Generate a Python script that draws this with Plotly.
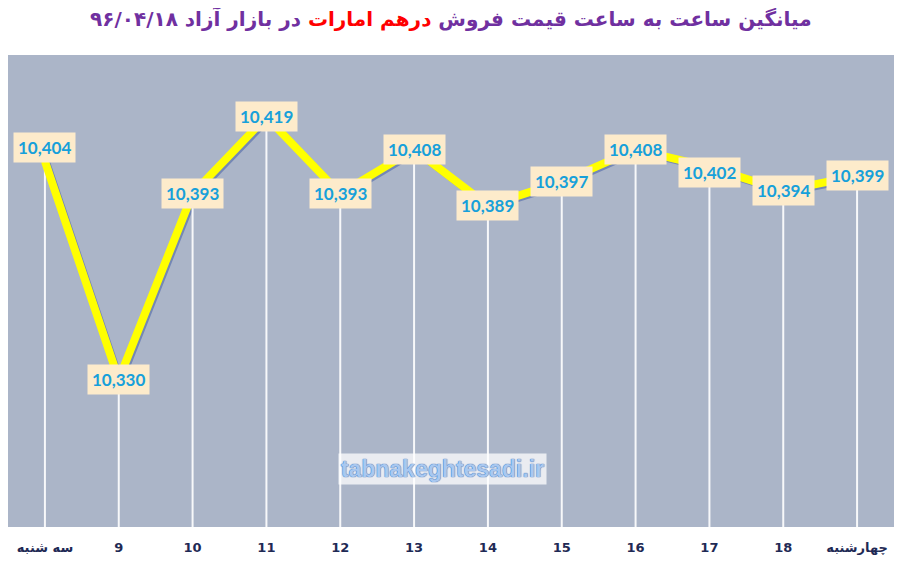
import plotly.graph_objects as go

# داده ها
days = ["سه شنبه", "9", "10", "11", "12", "13", "14", "15", "16", "17", "18", "چهارشنبه"]
prices = [10404, 10330, 10393, 10419, 10393, 10408, 10389, 10397, 10408, 10402, 10394, 10399]
label_shift = [14, 0, 0, 0, 0, 0, 0, 0, 0, -5, 0, 0]

y_min, y_max = 10280, 10440
idx = list(range(len(days)))

fig = go.Figure()

# سایه خط (روی محور جابجا شده)
fig.add_trace(go.Scatter(x=idx, y=prices, mode="lines",
                         line=dict(color="#7487B5", width=7),
                         hoverinfo="skip", showlegend=False))

# خطوط عمودی سفید از نقطه تا پایین
drop_x, drop_y = [], []
for i, p in zip(idx, prices):
    drop_x += [i, i, None]
    drop_y += [p, y_min, None]
fig.add_trace(go.Scatter(x=drop_x, y=drop_y, mode="lines", xaxis="x2", yaxis="y2",
                         line=dict(color="rgba(255,255,255,0.9)", width=2),
                         hoverinfo="skip", showlegend=False))

# خط اصلی زرد
fig.add_trace(go.Scatter(x=idx, y=prices, mode="lines", xaxis="x2", yaxis="y2",
                         line=dict(color="#FFFF00", width=8),
                         showlegend=False))

# برچسب ها
for i, p, s in zip(idx, prices, label_shift):
    fig.add_annotation(x=i, y=p, xref="x2", yref="y2", text="<b>{:,}</b>".format(p),
                       showarrow=False, yshift=s, bgcolor="#FDEBCB", borderpad=4,
                       font=dict(family="Lato", size=17, color="#17A0DA", weight="bold"))

title = ("<b>میانگین ساعت به ساعت قیمت فروش "
         "<span style='color:#FF0000'>درهم امارات</span>"
         " در بازار آزاد ۹۶/۰۴/۱۸</b>")
fig.add_annotation(x=0.5, y=1, xref="paper", yref="paper", yshift=37, yanchor="middle",
                   text=title, showarrow=False,
                   font=dict(family="DejaVu Sans", size=20, color="#7030A0"))

# واترمارک
fig.add_annotation(x=0.49, y=0.09, xref="paper", yref="paper",
                   text="<b>tabnakeghtesadi.ir</b>", showarrow=False,
                   bgcolor="rgba(255,255,255,0.75)", borderpad=2,
                   font=dict(family="Liberation Sans", size=23, color="#A9C8F0",
                             shadow="0 0 1px #3E6FB5, 0 0 1px #3E6FB5"))

shift_x = 2 / 73.75
shift_y = 2 / 2.95
fig.update_layout(
    width=886, height=553,
    margin=dict(l=0, r=0, t=47, b=34),
    paper_bgcolor="white",
    plot_bgcolor="#ABB5C8",
    xaxis=dict(range=[-0.5 - shift_x, 11.5 - shift_x], visible=False),
    yaxis=dict(range=[y_min + shift_y, y_max + shift_y], visible=False),
    xaxis2=dict(overlaying="x", range=[-0.5, 11.5], showgrid=False, zeroline=False,
                showline=False, ticks="", side="bottom", ticklabelstandoff=11,
                tickmode="array", tickvals=idx, ticktext=days,
                tickfont=dict(family="DejaVu Sans", size=13, color="#1F2A55", weight="bold")),
    yaxis2=dict(overlaying="y", range=[y_min, y_max], showgrid=False, zeroline=False,
                showticklabels=False, ticks=""),
    showlegend=False,
)

fig.write_html("out.html")
